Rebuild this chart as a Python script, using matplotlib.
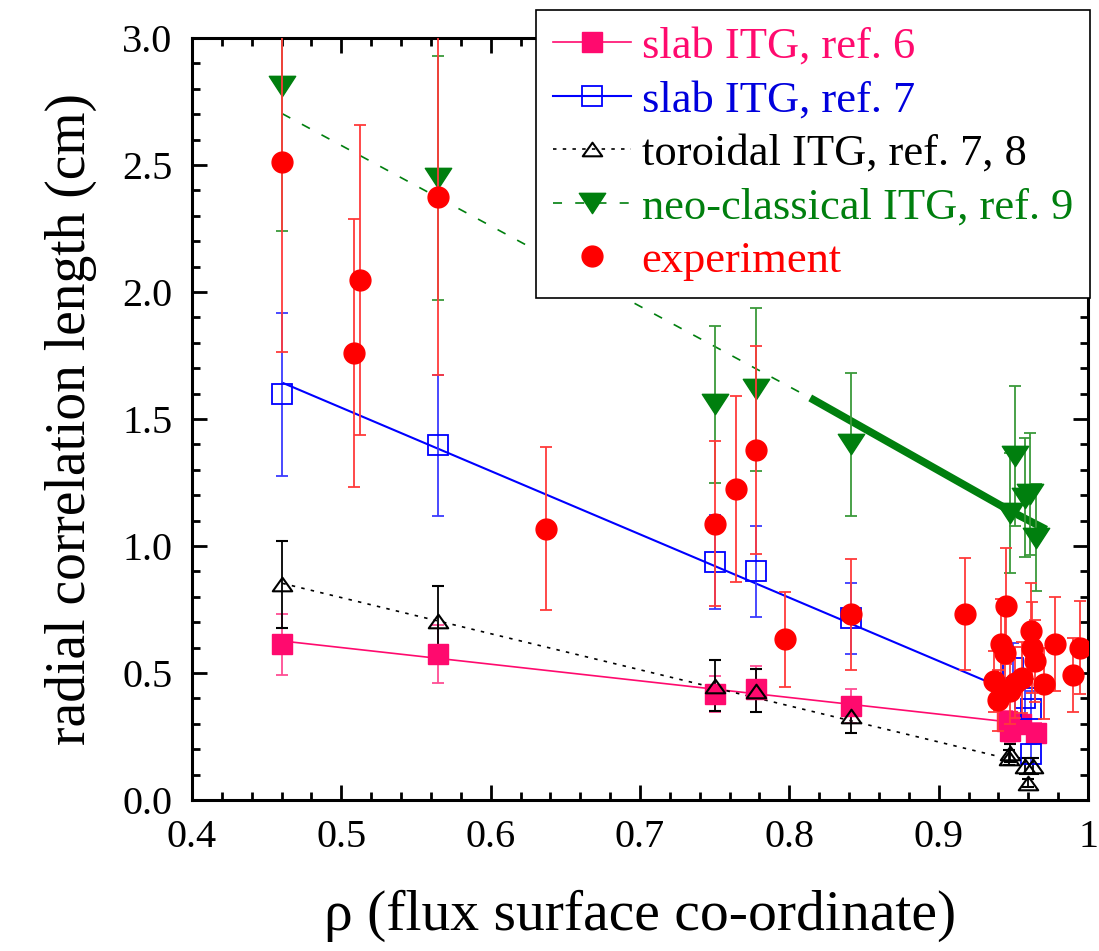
import matplotlib
matplotlib.use("Agg")
import matplotlib.pyplot as plt
from matplotlib.lines import Line2D
from matplotlib.path import Path
from matplotlib.ticker import MultipleLocator, FixedLocator, FixedFormatter

plt.rcParams['font.family'] = ['Liberation Serif', 'DejaVu Serif']
plt.rcParams['lines.scale_dashes'] = False

# ---------------- data ----------------
# slab ITG, ref. 6 (filled pink squares)
slab6_x = [0.4605, 0.5646, 0.7499, 0.7778, 0.8414, 0.946, 0.948, 0.955, 0.965]
slab6_y = [0.613, 0.574, 0.417, 0.437, 0.370, 0.310, 0.270, 0.300, 0.265]
slab6_e = [0.121, 0.113, 0.070, 0.090, 0.065, 0.040, 0.040, 0.040, 0.040]
slab6_fit_x = [0.4605, 0.9412]
slab6_fit_y = [0.626, 0.311]

# slab ITG, ref. 7 (open blue squares)
slab7_x = [0.4605, 0.5646, 0.7499, 0.7778, 0.8414, 0.950, 0.958, 0.962, 0.962]
slab7_y = [1.597, 1.396, 0.937, 0.900, 0.715, 0.520, 0.400, 0.360, 0.180]
slab7_e = [0.320, 0.278, 0.186, 0.180, 0.140, 0.100, 0.080, 0.070, 0.040]
slab7_fit_x = [0.4605, 0.935]
slab7_fit_y = [1.643, 0.460]

# toroidal ITG, ref. 7, 8 (open black triangles)
tor_x = [0.4605, 0.5646, 0.7499, 0.7778, 0.8414, 0.9478, 0.9468, 0.958, 0.963, 0.9595]
tor_y = [0.849, 0.705, 0.450, 0.430, 0.330, 0.185, 0.167, 0.134, 0.134, 0.068]
tor_e = [0.170, 0.138, 0.100, 0.085, 0.065, 0.035, 0.030, 0.030, 0.030, 0.015]
tor_fit_x = [0.4605, 0.939]
tor_fit_y = [0.853, 0.173]

# neo-classical ITG, ref. 9 (filled green down-triangles)
neo_x = [0.4605, 0.5646, 0.7499, 0.7778, 0.8414, 0.9478, 0.9512, 0.958, 0.9613, 0.965]
neo_y = [2.811, 2.450, 1.558, 1.617, 1.400, 1.131, 1.354, 1.190, 1.204, 1.033]
neo_e = [0.570, 0.480, 0.310, 0.320, 0.280, 0.236, 0.276, 0.235, 0.240, 0.210]
neo_fit_x = [0.4605, 0.814]
neo_fit_y = [2.702, 1.583]
neo_bold_x = [0.814, 0.948, 0.972]
neo_bold_y = [1.583, 1.138, 1.065]

# experiment (red circles)
exp_x = [0.4605, 0.5087, 0.5125, 0.5646, 0.637, 0.7499, 0.7644, 0.7778, 0.7972,
         0.8414, 0.9173, 0.945, 0.9415, 0.9446, 0.937, 0.940, 0.948, 0.951,
         0.9557, 0.962, 0.9646, 0.9623, 0.9703, 0.978, 0.9897, 0.9948]
exp_y = [2.512, 1.761, 2.046, 2.375, 1.068, 1.088, 1.226, 1.378, 0.633,
         0.731, 0.733, 0.764, 0.613, 0.580, 0.468, 0.392, 0.429, 0.462,
         0.481, 0.665, 0.547, 0.600, 0.458, 0.615, 0.492, 0.600]
exp_e = [0.750, 0.528, 0.610, 0.700, 0.320, 0.325, 0.366, 0.410, 0.187,
         0.218, 0.220, 0.230, 0.180, 0.170, 0.120, 0.120, 0.130, 0.140,
         0.140, 0.190, 0.160, 0.180, 0.140, 0.185, 0.147, 0.184]

labels = ['slab ITG, ref. 6', 'slab ITG, ref. 7', 'toroidal ITG, ref. 7, 8',
          'neo-classical ITG, ref. 9', 'experiment']
xticks = [0.4, 0.5, 0.6, 0.7, 0.8, 0.9, 1.0]
xticklabels = ['0.4', '0.5', '0.6', '0.7', '0.8', '0.9', '1']
yticks = [0.0, 0.5, 1.0, 1.5, 2.0, 2.5, 3.0]
yticklabels = ['0.0', '0.5', '1.0', '1.5', '2.0', '2.5', '3.0']

# ---------------- style ----------------
PINK = '#ff0a6e'
BLUE = '#0000ff'
BLACK = '#000000'
GREEN = '#007f0e'
RED = '#ff0000'

tri_up = Path([(0, 0.7), (-1, -0.7), (1, -0.7), (0, 0.7)],
              [Path.MOVETO, Path.LINETO, Path.LINETO, Path.CLOSEPOLY])
tri_dn = Path([(-1, 0.77), (1, 0.77), (0, -0.77), (-1, 0.77)],
              [Path.MOVETO, Path.LINETO, Path.LINETO, Path.CLOSEPOLY])

fig = plt.figure(figsize=(10.99, 9.51), dpi=100)
ax = fig.add_axes([0.1747, 0.1588, 0.9900 - 0.1747, 0.9600 - 0.1588])

ebkw = dict(linestyle='none', capsize=4, elinewidth=1.3, capthick=1.3)

# fit lines
ax.plot(slab6_fit_x, slab6_fit_y, color=PINK, lw=1.2, zorder=2)
ax.plot(slab7_fit_x, slab7_fit_y, color=BLUE, lw=1.5, zorder=2)
ax.plot(tor_fit_x, tor_fit_y, color=BLACK, lw=1.2, dashes=(2.5, 4.5), zorder=2)
ax.plot(neo_fit_x, neo_fit_y, color=GREEN, lw=1.2, dashes=(6.5, 9.5), zorder=2)
ax.plot(neo_bold_x, neo_bold_y, color=GREEN, lw=5.5, solid_capstyle='butt', zorder=2)

# data with error bars
ax.errorbar(slab6_x, slab6_y, yerr=slab6_e, marker='s', ms=14, mfc=PINK, mec=PINK,
            color=PINK, ecolor='#ff4d94', zorder=3, **ebkw)
ax.errorbar(slab7_x, slab7_y, yerr=slab7_e, marker='s', ms=14, mfc='none', mec=BLUE,
            mew=1.3, color=BLUE, ecolor='#3a3aff', zorder=3, **ebkw)
ax.errorbar(tor_x, tor_y, yerr=tor_e, marker=tri_up, ms=14, mfc='none', mec=BLACK,
            mew=1.5, color=BLACK, ecolor=BLACK, zorder=3, **ebkw)
ax.errorbar(neo_x, neo_y, yerr=neo_e, marker=tri_dn, ms=19, mfc=GREEN, mec=GREEN,
            color=GREEN, ecolor='#3a9a3a', zorder=3, **ebkw)
ax.errorbar(exp_x, exp_y, yerr=exp_e, marker='o', ms=15, mfc=RED, mec=RED,
            color=RED, ecolor='#ff3a3a', zorder=4, **ebkw)

# axes
ax.set_xlim(0.4, 1.0)
ax.set_ylim(0.0, 3.0)
ax.xaxis.set_major_locator(FixedLocator(xticks))
ax.xaxis.set_major_formatter(FixedFormatter(xticklabels))
ax.yaxis.set_major_locator(FixedLocator(yticks))
ax.yaxis.set_major_formatter(FixedFormatter(yticklabels))
ax.xaxis.set_minor_locator(MultipleLocator(0.02))
ax.yaxis.set_minor_locator(MultipleLocator(0.1))
ax.tick_params(which='both', direction='in', top=True, right=True, width=2.0)
ax.tick_params(which='major', length=11, labelsize=29, pad=14)
ax.tick_params(which='minor', length=6)
for s in ax.spines.values():
    s.set_linewidth(2.2)

ax.set_xlabel('ρ (flux surface co-ordinate)', fontsize=41.5, labelpad=24)
ax.set_ylabel('radial correlation length (cm)', fontsize=40, labelpad=18)

# legend
handles = [
    Line2D([], [], color=PINK, lw=1.2, marker='s', ms=14, mfc=PINK, mec=PINK),
    Line2D([], [], color=BLUE, lw=1.5, marker='s', ms=14, mfc='none', mec=BLUE, mew=1.3),
    Line2D([], [], color=BLACK, lw=1.2, dashes=(2.5, 4.5), marker=tri_up, ms=14,
           mfc='none', mec=BLACK, mew=1.5),
    Line2D([], [], color=GREEN, lw=1.2, dashes=(6.5, 9.5), marker=tri_dn, ms=19,
           mfc=GREEN, mec=GREEN),
    Line2D([], [], color='none', marker='o', ms=15, mfc=RED, mec=RED, linestyle='none'),
]
leg = fig.legend(handles, labels, loc='upper right',
                 bbox_to_anchor=(1090 / 1099, 1 - 10 / 951),
                 bbox_transform=fig.transFigure,
                 fontsize=32, frameon=True, fancybox=False, framealpha=1,
                 edgecolor='black', handlelength=1.75, handletextpad=0.25,
                 labelspacing=0.3, borderpad=0.38, borderaxespad=0)
leg.get_frame().set_linewidth(1.2)
leg.set_zorder(10)
for t, c in zip(leg.get_texts(), [PINK, '#0000dd', BLACK, GREEN, RED]):
    t.set_color(c)

fig.savefig('out.png', dpi=100)
